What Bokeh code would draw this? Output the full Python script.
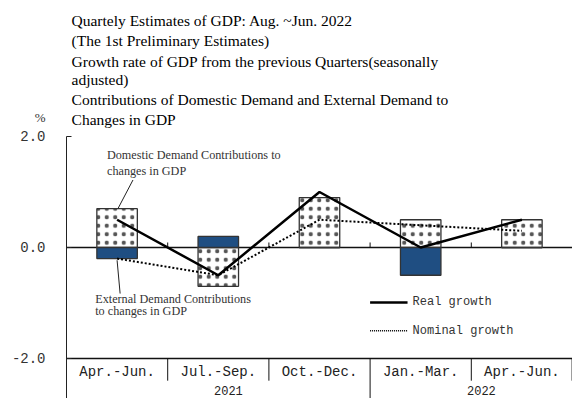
from bokeh.plotting import figure
from bokeh.models import Range1d, LinearAxis, FixedTicker, Label, NumeralTickFormatter
from bokeh.core.properties import value
from bokeh.embed import file_html
from bokeh.resources import INLINE

# ---- data ----
quarters = ["Apr.-Jun.", "Jul.-Sep.", "Oct.-Dec.", "Jan.-Mar.", "Apr.-Jun."]
years = ["2021", "2022"]
year_span = [3, 2]
domestic = [0.7, -0.7, 0.9, 0.5, 0.5]
external = [-0.2, 0.2, 0.0, -0.5, 0.0]
real_growth = [0.5, -0.5, 1.0, 0.0, 0.5]
nominal_growth = [-0.2, -0.5, 0.5, 0.4, 0.3]
y_ticks = [-2.0, 0.0, 2.0]
title_lines = [
    "Quartely Estimates of GDP: Aug. ~Jun. 2022",
    " (The 1st Preliminary Estimates)",
    "Growth rate of GDP from the previous Quarters(seasonally",
    "adjusted)",
    "Contributions of Domestic Demand and External Demand to",
    "Changes in GDP",
]
unit_label = "%"
dom_note = ["Domestic Demand Contributions to", "changes in GDP"]
ext_note = ["External Demand Contributions", "to changes in GDP"]
legend_labels = ["Real growth", "Nominal growth"]

n = len(quarters)
xs = [i + 0.5 for i in range(n)]
BLUE = "#1F4E82"
SERIF = "Liberation Serif"
MONO = "Liberation Mono"

Y_BOTTOM = -2.721
p = figure(width=572, height=398, output_backend="svg", toolbar_location=None,
           x_range=Range1d(-0.652, 5.0), y_range=Range1d(Y_BOTTOM, 4.45),
           x_axis_location=None, y_axis_location=None,
           min_border_left=0, min_border_right=0, min_border_top=0, min_border_bottom=0)
p.outline_line_color = None
p.background_fill_color = "white"
p.border_fill_color = "white"
p.grid.grid_line_color = None

yaxis = LinearAxis(ticker=FixedTicker(ticks=y_ticks), formatter=NumeralTickFormatter(format="0.0"),
                   fixed_location=0, bounds=(Y_BOTTOM, y_ticks[-1]),
                   major_tick_in=5, major_tick_out=0, minor_tick_line_color=None,
                   axis_line_color="#222", major_tick_line_color="#222",
                   major_label_text_font=MONO, major_label_text_font_size="14px",
                   major_label_text_color="#333", major_label_standoff=21)
p.add_layout(yaxis, "left")

# zero line and bottom table line (x from 0 to 5)
p.segment(x0=[0, 0], y0=[y_ticks[1], y_ticks[0]], x1=[n, n], y1=[y_ticks[1], y_ticks[0]],
          line_color="#111", line_width=1.3)

# category boundary ticks on zero line
bounds = [i + 1 for i in range(n)]
p.segment(x0=bounds, y0=[0] * n, x1=bounds, y1=[0.09] * n, line_color="#111", line_width=1)

# table separators
year_edges = []
acc = 0
for s in year_span:
    acc += s
    year_edges.append(acc)
short = [b - (0.004 if b == n else 0) for b in bounds if b not in year_edges[:-1]]
p.segment(x0=short, y0=[y_ticks[0]] * len(short), x1=short, y1=[-2.40] * len(short),
          line_color="#111", line_width=1)
long_ = year_edges[:-1]
p.segment(x0=long_, y0=[y_ticks[0]] * len(long_), x1=long_, y1=[Y_BOTTOM] * len(long_),
          line_color="#111", line_width=1)

# bars
p.vbar(x=xs, width=0.4, bottom=0, top=domestic, fill_color="white", line_color="#333",
       line_width=1.3, hatch_pattern="dot", hatch_color="#555", hatch_scale=8.5, hatch_weight=1.0)
p.vbar(x=xs, width=0.4, bottom=0, top=external, fill_color=BLUE, line_color="#333", line_width=1.3)

# lines
p.line(xs, real_growth, line_color="black", line_width=2.5)
p.line(xs, nominal_growth, line_color="black", line_width=2, line_dash="2 2")

# leader lines
p.segment(x0=[0.51], y0=[0.705], x1=[0.657], y1=[1.216], line_color="#222", line_width=1)
p.segment(x0=[0.50], y0=[-0.23], x1=[0.53], y1=[-0.83], line_color="#222", line_width=1)

# notes
for txt, yy in zip(dom_note, [1.66, 1.37]):
    p.add_layout(Label(x=0.40, y=yy, text=txt, text_font=SERIF, text_font_size="12.2px",
                       text_color="#333", text_baseline="middle"))
for txt, yy in zip(ext_note, [-0.92, -1.15]):
    p.add_layout(Label(x=0.284, y=yy, text=txt, text_font=SERIF, text_font_size="12.2px",
                       text_color="#333", text_baseline="middle"))

# legend
p.segment(x0=[3.0], y0=[-0.99], x1=[3.37], y1=[-0.99], line_color="black", line_width=2.5)
p.segment(x0=[3.0], y0=[-1.50], x1=[3.37], y1=[-1.50], line_color="black", line_width=1.5,
          line_dash="1 1")
for txt, yy in zip(legend_labels, [-0.99, -1.50]):
    p.add_layout(Label(x=3.42, y=yy, text=txt, text_font=MONO, text_font_size="12px",
                       text_color="#333", text_baseline="middle"))

# category labels
p.text(x=xs, y=[-2.24] * n, text=quarters, text_font=value(MONO), text_font_size="14px",
       text_color="#222", text_align="center", text_baseline="middle")
start = 0
ycent = []
for s in year_span:
    ycent.append(start + s / 2 + 0.1)
    start += s
p.text(x=ycent, y=[-2.58] * len(years), text=years, text_font=value(MONO), text_font_size="12px",
       text_color="#222", text_align="center", text_baseline="middle")

# title block
for txt, yy in zip(title_lines, [4.09, 3.73, 3.351, 3.027, 2.667, 2.306]):
    p.add_layout(Label(x=0.05, y=yy, text=txt, text_font=SERIF, text_font_size="15.5px",
                       text_color="black", text_baseline="middle"))
p.add_layout(Label(x=-0.26, y=2.35, text=unit_label, text_font=SERIF, text_font_size="13px",
                   text_color="#333", text_baseline="middle", text_align="center"))

open("out.html", "w").write(file_html(p, INLINE))
